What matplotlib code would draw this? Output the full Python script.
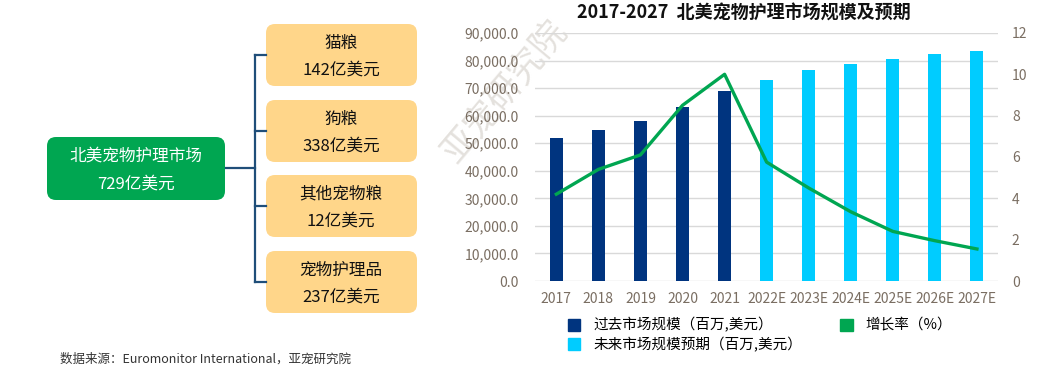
import numpy as np
import matplotlib.pyplot as plt
from matplotlib.patches import FancyBboxPatch, Patch

plt.rcParams['font.family'] = ['Noto Sans CJK SC', 'DejaVu Sans']

# --- data ---
years = ['2017', '2018', '2019', '2020', '2021',
         '2022E', '2023E', '2024E', '2025E', '2026E', '2027E']
past_size = [52000, 54700, 57900, 63000, 69000]
future_size = [73000, 76400, 78900, 80700, 82300, 83600]
growth = [4.2, 5.4, 6.1, 8.5, 10.0, 5.75, 4.5, 3.35, 2.4, 1.95, 1.55]

total_label = ['北美宠物护理市场', '729亿美元']
seg_names = ['猫粮', '狗粮', '其他宠物粮', '宠物护理品']
seg_values = ['142亿美元', '338亿美元', '12亿美元', '237亿美元']

DARK = '#00347f'
CYAN = '#00ccff'
GREEN = '#00a651'
ORANGE = '#ffd68a'
LINE = '#1f4e79'
TICK = '#7a6e62'

fig = plt.figure(figsize=(10.6, 3.77), dpi=100)

# --- left tree diagram, drawn in pixel coords ---
bg = fig.add_axes([0, 0, 1, 1])
bg.set_xlim(0, 1060)
bg.set_ylim(377, 0)
bg.axis('off')

bg.add_patch(FancyBboxPatch((47, 137), 178, 63, boxstyle='round,pad=0,rounding_size=9',
                            fc=GREEN, ec='none'))
bg.text(136, 156, total_label[0], color='white', fontsize=12, ha='center', va='center')
bg.text(136, 184, total_label[1], color='white', fontsize=12, ha='center', va='center')

box_tops = [24, 100, 175, 251]
box_h = 62
mids = [t + box_h / 2 for t in box_tops]
bg.plot([226, 255], [168, 168], color=LINE, lw=1.6)
bg.plot([255, 255], [mids[0], mids[-1]], color=LINE, lw=1.6)
for name, val, top, mid in zip(seg_names, seg_values, box_tops, mids):
    bg.plot([255, 266], [mid, mid], color=LINE, lw=1.6)
    bg.add_patch(FancyBboxPatch((266, top), 151, box_h, boxstyle='round,pad=0,rounding_size=9',
                                fc=ORANGE, ec='none'))
    bg.text(341, top + 19, name, fontsize=12, ha='center', va='center', color='#111111')
    bg.text(341, top + 46, val, fontsize=12, ha='center', va='center', color='#111111')

bg.text(60, 359, '数据来源：Euromonitor International，亚宠研究院', fontsize=9,
        color='#333333', va='center')

# watermark
bg.text(505, 92, '亚宠研究院', fontsize=25, rotation=50, color='#e4e1dd',
        ha='center', va='center')

# --- right bar + line chart ---
ax = fig.add_axes([0.505, 0.2546, 0.4365, 0.658])
x = np.arange(len(years))
n_past = len(past_size)
ax.bar(x[:n_past], past_size, width=0.31, color=DARK, zorder=3)
ax.bar(x[n_past:], future_size, width=0.31, color=CYAN, zorder=3)
ax.set_ylim(0, 90000)
ax.set_yticks(np.arange(0, 90001, 10000))
ax.set_yticklabels([f'{v:,.1f}' for v in np.arange(0, 90001, 10000)])
ax.set_xlim(-0.5, len(years) - 0.5)
ax.set_xticks(x)
ax.set_xticklabels(years)
ax.grid(axis='y', color='#d9d9d9', lw=1, zorder=0)
ax.set_axisbelow(True)
ax.patch.set_alpha(0)
for s in ax.spines.values():
    s.set_visible(False)
ax.tick_params(length=0, labelsize=10, colors=TICK)
ax.tick_params(axis='x', pad=8)
ax.tick_params(axis='y', pad=12)

ax2 = ax.twinx()
ax2.plot(x, growth, color=GREEN, lw=2.4, zorder=4)
ax2.set_ylim(0, 12)
ax2.set_yticks(np.arange(0, 13, 2))
for s in ax2.spines.values():
    s.set_visible(False)
ax2.tick_params(length=0, labelsize=10, colors=TICK, pad=10)

fig.text(0.702, 0.965, '2017-2027  北美宠物护理市场规模及预期', fontsize=13, fontweight='bold',
         ha='center', va='center', color='#111111')

handles = [Patch(color=DARK), Patch(color=CYAN), Patch(color=GREEN)]
labels = ['过去市场规模（百万,美元）', '未来市场规模预期（百万,美元）', '增长率（%）']
fig.legend(handles, labels, ncol=2, loc='upper left', bbox_to_anchor=(0.529, 0.177),
           frameon=False, fontsize=10.5, handlelength=0.85, handleheight=0.85,
           handletextpad=0.9, columnspacing=2.6, labelspacing=0.3, borderpad=0)

fig.savefig('out.png', dpi=100)
